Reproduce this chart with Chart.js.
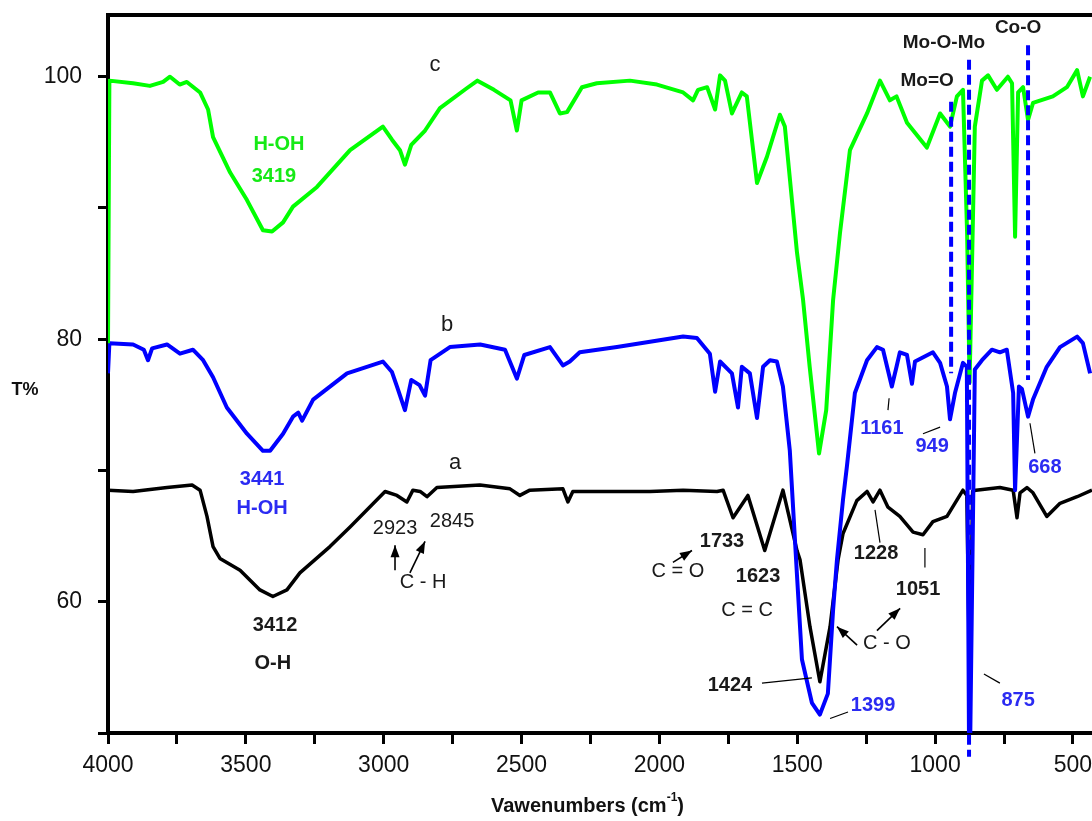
<!DOCTYPE html>
<html><head><meta charset="utf-8">
<script src="https://cdn.jsdelivr.net/npm/chart.js@4/dist/chart.umd.min.js"></script>
<style>html,body{margin:0;padding:0;background:#fff;}canvas{display:block;}</style>
</head><body>
<canvas id="c" width="1092" height="821"></canvas>
<script>
// ---- series c (green) ----
const cWavenumber = [4000,3995,3909,3848,3800,3775,3740,3714,3666,3637,3619,3557,3496,3438,3405,3365,3329,3242,3122,3003,2970,2941,2923,2900,2850,2796,2700,2660,2600,2540,2517,2500,2440,2397,2361,2335,2281,2227,2107,2009,1914,1878,1860,1827,1798,1780,1762,1737,1701,1683,1646,1610,1563,1545,1501,1479,1455,1421,1395,1370,1345,1309,1247,1200,1164,1140,1102,1030,982,946,921,899,884,875,856,830,808,776,736,721,710,699,681,663,645,573,522,485,464,438];
const cTransmittance = [79.7,99.7,99.5,99.3,99.6,100.0,99.4,99.6,98.8,97.5,95.4,92.7,90.6,88.3,88.2,88.9,90.1,91.6,94.4,96.2,95.2,94.4,93.3,94.8,95.9,97.6,99.1,99.7,99.0,98.2,95.9,98.2,98.8,98.8,97.2,97.3,99.2,99.5,99.7,99.4,98.8,98.2,99.0,99.2,97.5,100.1,99.7,97.2,98.8,98.5,91.9,93.9,97.1,96.2,86.6,83.0,77.9,71.3,74.6,83.0,88.1,94.4,97.2,99.7,98.2,98.5,96.5,94.6,97.2,96.2,98.5,99.0,88.1,76.7,96.2,99.7,100.1,99.0,100.0,99.5,87.8,98.8,99.2,96.7,98.0,98.5,99.2,100.5,98.5,100.0];
// ---- series b (blue) ----
const bWavenumber = [4000,3995,3909,3870,3855,3840,3786,3739,3692,3655,3619,3569,3496,3438,3412,3365,3329,3310,3296,3256,3133,3061,3003,2970,2952,2923,2900,2870,2850,2830,2760,2650,2560,2517,2490,2397,2350,2325,2289,2154,2034,1914,1864,1817,1798,1780,1737,1715,1701,1672,1646,1624,1599,1574,1552,1527,1501,1483,1447,1418,1389,1370,1356,1334,1320,1291,1247,1211,1189,1157,1140,1128,1102,1084,1073,1008,982,957,946,928,899,885,877,873,856,830,794,765,740,717,710,696,685,663,645,595,547,485,464,438];
const bTransmittance = [77.4,79.7,79.6,79.2,78.4,79.3,79.6,78.9,79.2,78.4,77.1,74.8,72.8,71.5,71.5,72.8,74.1,74.4,73.8,75.4,77.4,77.9,78.3,77.5,76.4,74.6,76.9,76.5,75.7,78.4,79.4,79.6,79.2,77.0,78.8,79.4,78.0,78.3,79.0,79.4,79.8,80.2,80.1,78.9,76.0,78.3,77.4,74.8,77.9,77.4,74.0,77.9,78.4,78.3,76.4,71.5,62.0,55.6,52.3,51.4,53.0,59.4,63.2,67.8,70.3,75.9,78.4,79.4,79.2,76.4,77.9,79.0,78.8,76.6,78.3,79.0,78.2,76.4,73.9,75.9,78.2,77.9,49.0,49.0,77.7,78.4,79.2,79.0,79.2,75.9,68.5,76.4,76.2,74.1,75.4,77.9,79.4,80.2,79.7,77.4];
// ---- series a (black) ----
const aWavenumber = [4000,3909,3786,3695,3666,3641,3619,3594,3521,3449,3402,3351,3304,3195,3122,2995,2952,2916,2894,2868,2843,2807,2651,2542,2506,2470,2350,2332,2314,2034,1914,1791,1769,1733,1679,1618,1552,1501,1490,1454,1418,1381,1352,1334,1284,1247,1225,1200,1171,1128,1080,1044,1008,957,899,885,877,872,864,852,765,717,703,692,667,645,595,547,485,431];
const aTransmittance = [68.5,68.4,68.7,68.9,68.5,66.5,64.2,63.3,62.4,60.9,60.4,60.9,62.2,64.2,65.7,68.4,68.1,67.6,68.5,68.4,68.0,68.7,68.9,68.6,68.1,68.5,68.6,67.6,68.4,68.4,68.5,68.4,68.5,66.4,68.1,63.9,68.5,63.9,63.2,58.1,53.9,58.1,63.2,65.2,67.7,68.4,67.6,68.5,67.2,66.5,65.3,65.1,66.1,66.5,68.5,68.1,57.0,57.0,68.4,68.5,68.7,68.5,66.4,68.3,68.7,68.3,66.5,67.5,68.0,68.5];
// ---- dashed marker lines ----
const dashWavenumber = [942, 877, 663];
const dashTop = [98.1, 101.3, 102.4];
const dashBottom = [77.4, 48.2, 76.9];
// ---- ticks ----
const xTickValues = [4000,3750,3500,3250,3000,2750,2500,2250,2000,1750,1500,1250,1000,750,500];
const xTickLabels = ['4000','','3500','','3000','','2500','','2000','','1500','','1000','','500'];
const yTickValues = [50,60,70,80,90,100];
const yTickLabels = ['','60','','80','','100'];

const BLACK='#000000', BLUE='#0000ff', GREEN='#00ff00';
const TBLUE='#2b2bf2', TGREEN='#16ea16', TDARK='#1a1a1a';
const FONT="'Liberation Sans', Arial, Helvetica, sans-serif";

// annotation text: [text, wavenumber, T, color, weight, size]
const labelTexts = [
 ['c',2814,100.9,TDARK,'normal',22],
 ['H-OH',3380,94.8,TGREEN,'bold',20],
 ['3419',3398,92.4,TGREEN,'bold',20],
 ['b',2770,81.1,TDARK,'normal',22],
 ['3441',3441,69.3,TBLUE,'bold',20],
 ['H-OH',3441,67.1,TBLUE,'bold',20],
 ['a',2741,70.6,TDARK,'normal',22],
 ['2923',2959,65.6,TDARK,'normal',20],
 ['2845',2752,66.1,TDARK,'normal',20],
 ['C - H',2857,61.5,TDARK,'normal',20],
 ['3412',3394,58.2,TDARK,'bold',20],
 ['O-H',3402,55.3,TDARK,'bold',20],
 ['1733',1773,64.6,TDARK,'bold',20],
 ['C = O',1933,62.3,TDARK,'normal',20],
 ['1623',1642,61.9,TDARK,'bold',20],
 ['C = C',1682,59.3,TDARK,'normal',20],
 ['1424',1744,53.6,TDARK,'bold',20],
 ['1399',1225,52.1,TBLUE,'bold',20],
 ['C - O',1175,56.8,TDARK,'normal',20],
 ['1051',1062,60.9,TDARK,'bold',20],
 ['1228',1214,63.7,TDARK,'bold',20],
 ['1161',1193,73.2,TBLUE,'bold',20],
 ['949',1011,71.8,TBLUE,'bold',20],
 ['668',602,70.2,TBLUE,'bold',20],
 ['875',699,52.5,TBLUE,'bold',20],
 ['Mo-O-Mo',968,102.6,TDARK,'bold',19],
 ['Mo=O',1029,99.7,TDARK,'bold',19],
 ['Co-O',699,103.7,TDARK,'bold',19]
];
// arrows [w1,T1,w2,T2] head at second point
const arrowLines = [
 [2959,62.4,2959,64.3],
 [2905,62.2,2850,64.6],
 [1951,63.0,1882,63.9],
 [1283,56.7,1356,58.1],
 [1211,57.8,1127,59.5]
];
// thin leader lines
const leaderLines = [
 [1628,53.8,1447,54.2],
 [1381,51.1,1316,51.6],
 [1200,64.5,1218,67.0],
 [1037,64.1,1037,62.6],
 [1171,74.6,1167,75.5],
 [1044,72.8,982,73.3],
 [656,73.6,638,71.3],
 [823,54.5,765,53.8]
];

function pts(xs, ys){ return xs.map((x,i)=>({x:x,y:ys[i]})); }

const datasets = [];
dashWavenumber.forEach((w,i)=>{
  datasets.push({data:[{x:w,y:dashTop[i]},{x:w,y:dashBottom[i]}], borderColor:BLUE, borderWidth:4,
    borderDash:[10,5], pointRadius:0, clip:false, fill:false});
});
datasets.push({data:pts(cWavenumber,cTransmittance), borderColor:GREEN, borderWidth:4, pointRadius:0, fill:false});
datasets.push({data:pts(bWavenumber,bTransmittance), borderColor:BLUE, borderWidth:4, pointRadius:0, fill:false});
datasets.push({data:pts(aWavenumber,aTransmittance), borderColor:BLACK, borderWidth:3.5, pointRadius:0, fill:false});

function arrowHead(ctx,x1,y1,x2,y2,len,wid){
  const a=Math.atan2(y2-y1,x2-x1);
  ctx.beginPath();
  ctx.moveTo(x2,y2);
  ctx.lineTo(x2-len*Math.cos(a)+wid*Math.sin(a), y2-len*Math.sin(a)-wid*Math.cos(a));
  ctx.lineTo(x2-len*Math.cos(a)-wid*Math.sin(a), y2-len*Math.sin(a)+wid*Math.cos(a));
  ctx.closePath(); ctx.fill();
}

const decor = {
  id:'decor',
  afterDatasetsDraw(chart){
    const ctx=chart.ctx, xs=chart.scales.x, ys=chart.scales.y, ca=chart.chartArea;
    ctx.save();
    ctx.strokeStyle='#000'; ctx.lineWidth=4;
    ctx.beginPath(); ctx.moveTo(ca.left-2,ca.top); ctx.lineTo(ca.right,ca.top); ctx.stroke();
    ctx.lineWidth=1.2; ctx.strokeStyle='#000';
    leaderLines.forEach(l=>{
      ctx.beginPath(); ctx.moveTo(xs.getPixelForValue(l[0]),ys.getPixelForValue(l[1]));
      ctx.lineTo(xs.getPixelForValue(l[2]),ys.getPixelForValue(l[3])); ctx.stroke();
    });
    ctx.fillStyle='#000'; ctx.lineWidth=1.6;
    arrowLines.forEach(l=>{
      const x1=xs.getPixelForValue(l[0]), y1=ys.getPixelForValue(l[1]);
      const x2=xs.getPixelForValue(l[2]), y2=ys.getPixelForValue(l[3]);
      ctx.beginPath(); ctx.moveTo(x1,y1); ctx.lineTo(x2,y2); ctx.stroke();
      arrowHead(ctx,x1,y1,x2,y2,12,4.5);
    });
    ctx.textAlign='center'; ctx.textBaseline='middle';
    labelTexts.forEach(t=>{
      ctx.font=t[4]+' '+t[5]+'px '+FONT; ctx.fillStyle=t[3];
      ctx.fillText(t[0], xs.getPixelForValue(t[1]), ys.getPixelForValue(t[2]));
    });
    ctx.fillStyle='#111';
    ctx.font='bold 18px '+FONT; ctx.textAlign='center';
    ctx.fillText('T%', 25, 390);
    ctx.font='bold 20px '+FONT;
    const main='Vawenumbers (cm', sup='-1', end=')';
    ctx.textAlign='left';
    const wMain=ctx.measureText(main).width, wEnd=ctx.measureText(end).width;
    ctx.font='bold 12px '+FONT; const wSup=ctx.measureText(sup).width;
    const total=wMain+wSup+wEnd; const cx=(ca.left+xs.getPixelForValue(500))/2-3;
    let sx=cx-total/2; const ty=806;
    ctx.font='bold 20px '+FONT; ctx.fillText(main,sx,ty);
    ctx.font='bold 12px '+FONT; ctx.fillText(sup,sx+wMain,ty-8);
    ctx.font='bold 20px '+FONT; ctx.fillText(end,sx+wMain+wSup,ty);
    ctx.restore();
  }
};

new Chart(document.getElementById('c'), {
  type:'line',
  data:{datasets:datasets},
  plugins:[decor],
  options:{
    responsive:false, animation:false, devicePixelRatio:1,
    layout:{padding:{left:0,right:0,top:15,bottom:0}},
    plugins:{legend:{display:false}, tooltip:{enabled:false}},
    elements:{line:{tension:0, borderJoinStyle:'round', borderCapStyle:'butt'}},
    scales:{
      x:{type:'linear', reverse:true, min:431, max:4000,
        afterBuildTicks(s){ s.ticks = xTickValues.map(v=>({value:v})); },
        afterFit(s){ s.height=88; s.paddingLeft=0; s.paddingRight=0; },
        grid:{display:true, drawOnChartArea:false, drawTicks:true, tickLength:11, tickWidth:3, tickColor:'#000'},
        border:{display:true, color:'#000', width:4},
        ticks:{autoSkip:false, maxRotation:0, padding:8, color:'#111', font:{family:FONT, size:23},
          callback(v){ const i=xTickValues.indexOf(v); return i>=0?xTickLabels[i]:''; }}
      },
      y:{min:50, max:104.7,
        afterBuildTicks(s){ s.ticks = yTickValues.map(v=>({value:v})); },
        afterFit(s){ s.width=108; s.paddingTop=0; s.paddingBottom=0; },
        grid:{display:true, drawOnChartArea:false, drawTicks:true, tickLength:10, tickWidth:3, tickColor:'#000'},
        border:{display:true, color:'#000', width:4},
        ticks:{autoSkip:false, padding:16, color:'#111', font:{family:FONT, size:23},
          callback(v){ const i=yTickValues.indexOf(v); return i>=0?yTickLabels[i]:''; }}
      }
    }
  }
});
</script>
</body></html>
